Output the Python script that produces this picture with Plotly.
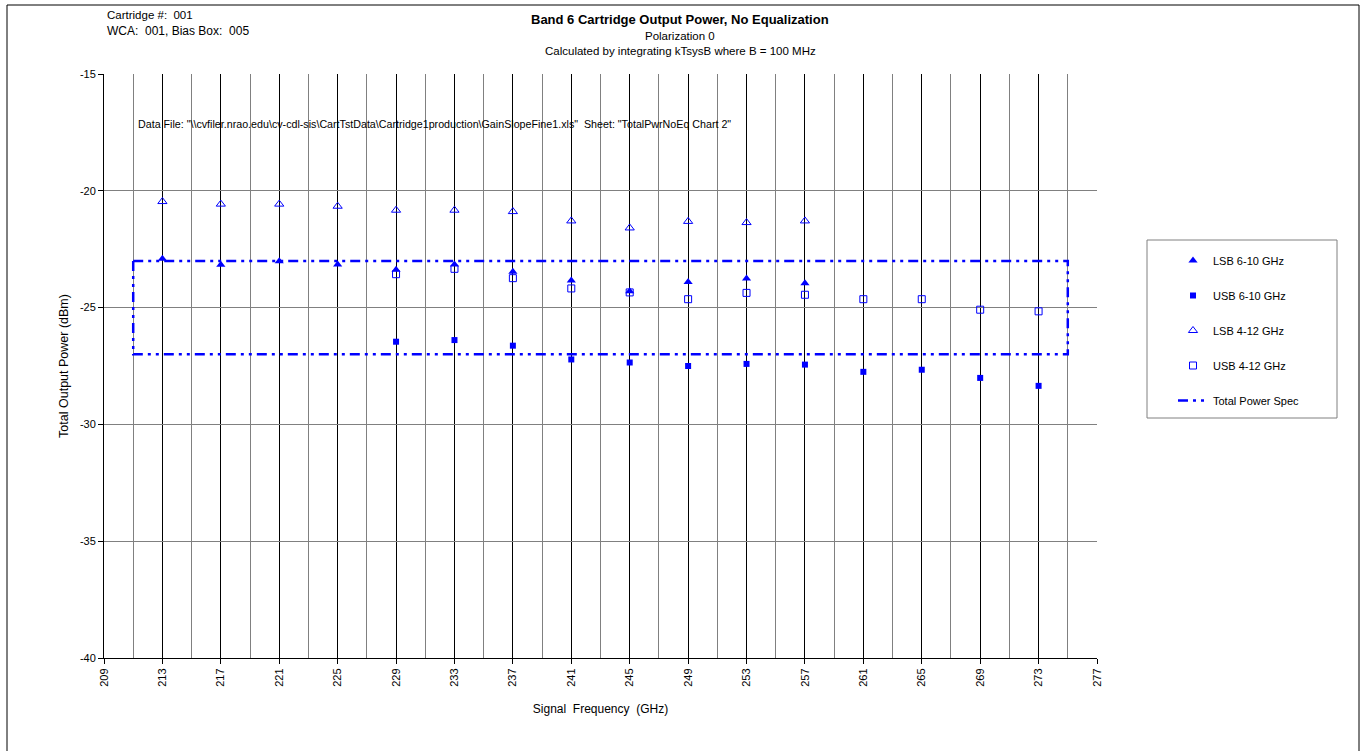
import plotly.graph_objects as go

# ---- data ----
freq_lsb = [213, 217, 221, 225, 229, 233, 237, 241, 245, 249, 253, 257]
lsb_6_10 = [-22.91, -23.17, -23.02, -23.15, -23.38, -23.15, -23.47, -23.84, -24.30, -23.90, -23.75, -23.96]
lsb_4_12 = [-20.46, -20.57, -20.57, -20.66, -20.83, -20.83, -20.89, -21.29, -21.59, -21.31, -21.36, -21.29]

freq_usb = [229, 233, 237, 241, 245, 249, 253, 257, 261, 265, 269, 273]
usb_6_10 = [-26.46, -26.39, -26.63, -27.22, -27.35, -27.50, -27.41, -27.44, -27.75, -27.66, -28.01, -28.35]
usb_4_12 = [-23.57, -23.34, -23.74, -24.18, -24.35, -24.64, -24.37, -24.45, -24.64, -24.64, -25.09, -25.16]

spec_x = [211, 275, 275, 211, 211]
spec_y = [-23, -23, -27, -27, -23]

x_ticks = list(range(209, 278, 4))
y_ticks = [-40, -35, -30, -25, -20, -15]

FONT = "Arial, Liberation Sans, sans-serif"
BLUE = "#0000FF"
SP2 = "\u00a0\u00a0"

fig = go.Figure()
fig.add_trace(go.Scatter(x=freq_lsb, y=lsb_6_10, mode="markers", name="LSB 6-10 GHz",
                         legendgroup="a",
                         marker=dict(symbol="triangle-up", size=8, color=BLUE)))
fig.add_trace(go.Scatter(x=freq_usb, y=usb_6_10, mode="markers", name="USB 6-10 GHz",
                         legendgroup="b",
                         marker=dict(symbol="square", size=6, color=BLUE)))
fig.add_trace(go.Scatter(x=freq_lsb, y=lsb_4_12, mode="markers", name="LSB 4-12 GHz",
                         legendgroup="c",
                         marker=dict(symbol="triangle-up-open", size=8, color=BLUE,
                                     line=dict(width=1, color=BLUE))))
fig.add_trace(go.Scatter(x=freq_usb, y=usb_4_12, mode="markers", name="USB 4-12 GHz",
                         legendgroup="d",
                         marker=dict(symbol="square-open", size=7, color=BLUE,
                                     line=dict(width=1, color=BLUE))))
fig.add_trace(go.Scatter(x=spec_x, y=spec_y, mode="lines", name="Total Power Spec",
                         legendgroup="e",
                         line=dict(color=BLUE, width=2.5, dash="10px,5px,3px,5px,3px,5px")))

L, R, T, B = 104, 1097, 74, 658
W, H = 1360, 751

def px_x(p):
    return (p - L) / (R - L)

def px_y(p):
    return (B - p) / (B - T)

fig.update_layout(
    width=W, height=H,
    margin=dict(l=L, r=W - R, t=T, b=H - B),
    paper_bgcolor="white", plot_bgcolor="white",
    font=dict(family=FONT, size=11, color="black"),
    showlegend=True,
    legend=dict(x=px_x(1173), y=px_y(246), xanchor="left", yanchor="top",
                borderwidth=0, bgcolor="rgba(0,0,0,0)",
                font=dict(family=FONT, size=11, color="black"),
                tracegroupgap=16, itemsizing="trace"),
    xaxis=dict(range=[209, 277], tickvals=x_ticks, ticktext=[str(v) for v in x_ticks],
               tickangle=-90, ticks="outside", ticklen=5, tickcolor="black",
               showgrid=True, gridcolor="black", gridwidth=1,
               minor=dict(dtick=2, tick0=209, showgrid=True, gridcolor="#808080", gridwidth=1, ticks=""),
               showline=True, linecolor="black", linewidth=1, zeroline=False,
               title=dict(text="Signal" + SP2 + "Frequency" + SP2 + "(GHz)", font=dict(size=12), standoff=18),
               tickfont=dict(size=11)),
    yaxis=dict(range=[-40, -15], tickvals=y_ticks, ticktext=[str(v) for v in y_ticks],
               ticks="outside", ticklen=5, tickcolor="black",
               showgrid=True, gridcolor="#808080", gridwidth=1,
               showline=True, linecolor="black", linewidth=1, zeroline=False,
               title=dict(text="Total Output Power (dBm)", font=dict(size=12.5), standoff=8),
               tickfont=dict(size=11)),
)

# outer chart border and legend border
fig.add_shape(type="rect", xref="paper", yref="paper",
              x0=px_x(7), x1=px_x(1359), y0=px_y(760), y1=px_y(5),
              line=dict(color="black", width=1), layer="below")
fig.add_shape(type="rect", xref="paper", yref="paper",
              x0=px_x(1147), x1=px_x(1337), y0=px_y(418), y1=px_y(240),
              line=dict(color="#808080", width=1))

ann = [
    dict(text="<b>Band 6 Cartridge Output Power, No Equalization</b>", x=px_x(680), y=px_y(20), size=13),
    dict(text="Polarization 0", x=px_x(680), y=px_y(36), size=11.5),
    dict(text="Calculated by integrating kTsysB where B = 100 MHz", x=px_x(680), y=px_y(51), size=11.5),
]
for a in ann:
    fig.add_annotation(text=a["text"], x=a["x"], y=a["y"], xref="paper", yref="paper",
                       showarrow=False, xanchor="center", yanchor="middle",
                       font=dict(family=FONT, size=a["size"], color="black"))

fig.add_annotation(text="Cartridge #:" + SP2 + "001", x=px_x(105), y=px_y(15), xref="paper", yref="paper",
                   showarrow=False, xanchor="left", yanchor="middle",
                   font=dict(family=FONT, size=11.5, color="black"))
fig.add_annotation(text="WCA:" + SP2 + "001, Bias Box:" + SP2 + "005", x=px_x(105), y=px_y(31), xref="paper", yref="paper",
                   showarrow=False, xanchor="left", yanchor="middle",
                   font=dict(family=FONT, size=12, color="black"))
fig.add_annotation(text='Data File: "\\\\cvfiler.nrao.edu\\cv-cdl-sis\\CartTstData\\Cartridge1production\\GainSlopeFine1.xls"' + SP2 + 'Sheet: "TotalPwrNoEq Chart 2"',
                   x=px_x(136), y=px_y(124), xref="paper", yref="paper",
                   showarrow=False, xanchor="left", yanchor="middle",
                   font=dict(family=FONT, size=10.7, color="black"))

fig.write_html("out.html", config={"displayModeBar": False},
               post_script="document.body.style.margin='0';document.body.style.overflow='hidden';")
